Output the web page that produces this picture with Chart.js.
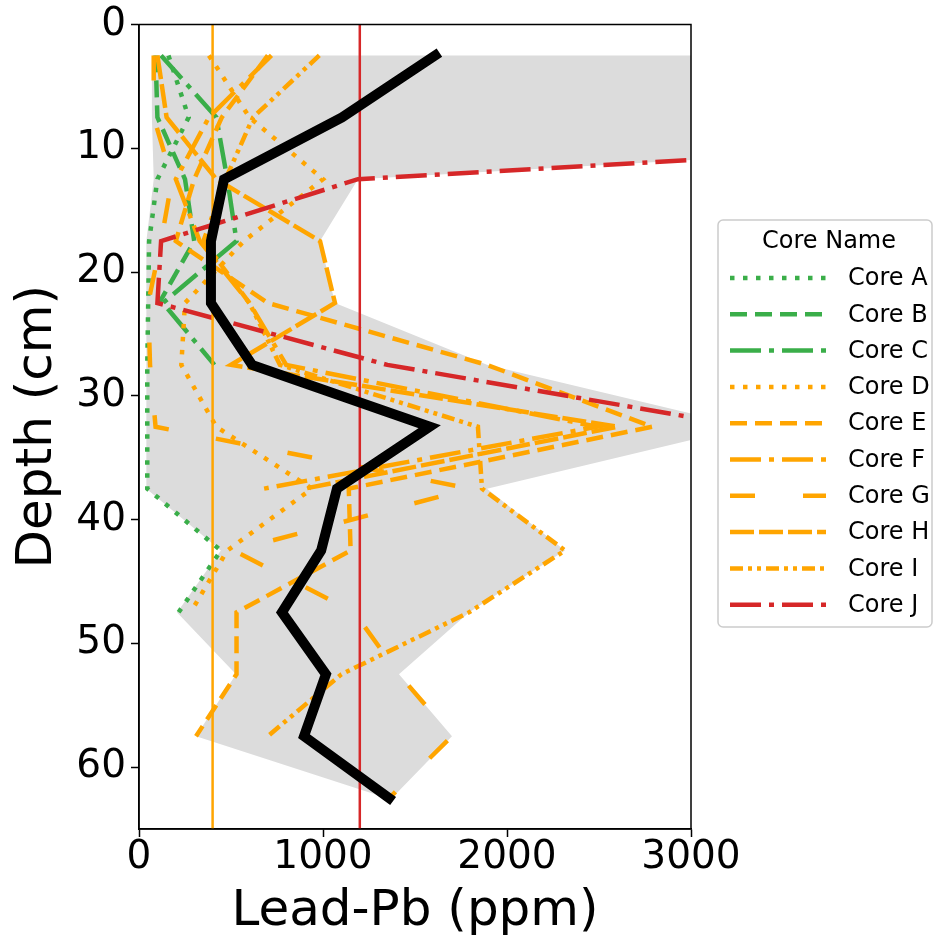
<!DOCTYPE html>
<html>
<head>
<meta charset="utf-8">
<script src="https://cdn.jsdelivr.net/npm/chart.js@4.4.1/dist/chart.umd.min.js"></script>
<style>
  html, body { margin: 0; padding: 0; background: #fff; }
</style>
</head>
<body>
<canvas id="grafik" width="935" height="943"></canvas>
<script>
// depth of each sample (cm)
const depths = [2.5, 7.5, 12.5, 17.5, 22.5, 27.5, 32.5, 37.5, 42.5, 47.5, 52.5, 57.5, 62.5];

// lead per core (ppm), null = no sample
const coreA = [160, 270, 100, 55, 50, 45, 45, 45, 445, 215, null, null, null];
const coreB = [90, 100, 250, 300, 110, null, null, null, null, null, null, null, null];
const coreC = [120, 420, 480, 530, 130, 410, null, null, null, null, null, null, null];
const coreD = [380, 600, 1000, 570, 250, 230, 420, 940, 480, 280, null, null, null];
const coreE = [700, 450, 300, 200, 700, 1891, 2790, 1140, 1150, 530, 530, 310, null];
const coreF = [720, 380, 200, 330, 600, 800, 2490, 680, null, null, null, null, null];
const coreG = [80, 80, 180, 120, 50, 60, 90, 1800, 516, 1170, 1413, 1701, 1360];
const coreH = [100, 150, 420, 984, 1065, 500, 2600, 900, null, null, null, null, null];
const coreI = [980, 620, 470, 350, 600, 766, 1842, 1864, 2315, 1793, 1100, 700, null];
const coreJ = [12000, 7000, 1190, 120, 100, 1350, 3300, null, null, null, null, null, null];

// mean profile and min/max envelope
const meanPb = [1610, 1103, 462, 391, 391, 614, 1580, 1076, 990, 777, 1016, 897, 1359];
const bandMax = [12000, 7000, 1190, 984, 1065, 1891, 3300, 1891, 2315, 1793, 1413, 1701, 1375];
const bandMin = [70, 70, 80, 40, 40, 40, 40, 40, 445, 207, 527, 310, 1345];

const thresholds = [400, 1200];
const xTicks = [0, 1000, 2000, 3000];
const yTicks = [0, 10, 20, 30, 40, 50, 60];

const GREEN = '#3aae49';
const ORANGE = '#ffa500';
const RED = '#d62728';
const FONT = '"DejaVu Sans", "Liberation Sans", sans-serif';

const cores = [
  { name: 'Core A', data: coreA, color: GREEN, dash: [4.5, 8.5] },
  { name: 'Core B', data: coreB, color: GREEN, dash: [17, 8] },
  { name: 'Core C', data: coreC, color: GREEN, dash: [31, 8, 5, 8] },
  { name: 'Core D', data: coreD, color: ORANGE, dash: [4.5, 8.5] },
  { name: 'Core E', data: coreE, color: ORANGE, dash: [17, 8] },
  { name: 'Core F', data: coreF, color: ORANGE, dash: [31, 8, 5, 8] },
  { name: 'Core G', data: coreG, color: ORANGE, dash: [25, 48] },
  { name: 'Core H', data: coreH, color: ORANGE, dash: [24, 5] },
  { name: 'Core I', data: coreI, color: ORANGE, dash: [13, 5, 4, 5, 4, 5] },
  { name: 'Core J', data: coreJ, color: RED, dash: [31, 8, 5, 8] }
];

function toPoints(values) {
  return depths.map((d, i) => ({ x: values[i], y: d }));
}

const bandPoints = toPoints(bandMax).concat(toPoints(bandMin).reverse());

const datasets = [];
datasets.push({
  label: 'range',
  data: bandPoints,
  showLine: true,
  borderWidth: 0,
  borderColor: 'rgba(0,0,0,0)',
  backgroundColor: '#dcdcdc',
  fill: 'shape',
  pointRadius: 0,
  order: 100
});
cores.forEach((c, i) => {
  datasets.push({
    label: c.name,
    data: toPoints(c.data),
    showLine: true,
    borderColor: c.color,
    borderWidth: 4.5,
    borderDash: c.dash,
    borderCapStyle: 'butt',
    pointRadius: 0,
    fill: false,
    spanGaps: false,
    order: 40 - i
  });
});
datasets.push({
  label: 'Pb 400',
  data: [{ x: thresholds[0], y: 0 }, { x: thresholds[0], y: 65 }],
  showLine: true, borderColor: ORANGE, borderWidth: 2.5, pointRadius: 0, order: 10
});
datasets.push({
  label: 'Pb 1200',
  data: [{ x: thresholds[1], y: 0 }, { x: thresholds[1], y: 65 }],
  showLine: true, borderColor: RED, borderWidth: 2.5, pointRadius: 0, order: 10
});
datasets.push({
  label: 'mean',
  data: toPoints(meanPb),
  showLine: true,
  borderColor: '#000',
  borderWidth: 10,
  borderCapStyle: 'square',
  borderJoinStyle: 'miter',
  pointRadius: 0,
  order: 0
});

const framePlugin = {
  id: 'frame',
  afterDatasetsDraw(chart) {
    const a = chart.chartArea;
    const ctx = chart.ctx;
    ctx.save();
    ctx.strokeStyle = '#000';
    ctx.lineWidth = 1.5;
    ctx.strokeRect(a.left, a.top, a.right - a.left, a.bottom - a.top);
    ctx.restore();
  }
};

const legendPlugin = {
  id: 'coreLegend',
  afterDraw(chart) {
    const ctx = chart.ctx;
    const x0 = 718, y0 = 220, w = 214, h = 407;
    ctx.save();
    ctx.beginPath();
    ctx.roundRect(x0, y0, w, h, 5);
    ctx.fillStyle = 'rgba(255,255,255,0.8)';
    ctx.fill();
    ctx.strokeStyle = '#cccccc';
    ctx.lineWidth = 1.5;
    ctx.stroke();

    ctx.fillStyle = '#000';
    ctx.font = '24px ' + FONT;
    ctx.textAlign = 'center';
    ctx.textBaseline = 'middle';
    ctx.fillText('Core Name', 829, 242);

    ctx.textAlign = 'left';
    cores.forEach((c, i) => {
      const y = 278 + i * 36.3;
      ctx.beginPath();
      ctx.setLineDash(c.dash);
      ctx.lineCap = 'butt';
      ctx.strokeStyle = c.color;
      ctx.lineWidth = 4.5;
      ctx.moveTo(730, y);
      ctx.lineTo(826, y);
      ctx.stroke();
      ctx.setLineDash([]);
      ctx.fillStyle = '#000';
      ctx.fillText(c.name, 848, y + 1);
    });
    ctx.restore();
  }
};

const ctx = document.getElementById('grafik').getContext('2d');

const chart = new Chart(ctx, {
  type: 'scatter',
  data: { datasets: datasets },
  options: {
    responsive: false,
    animation: false,
    devicePixelRatio: 1,
    layout: { padding: { top: 22, right: 244, left: 0, bottom: 0 } },
    plugins: {
      legend: { display: false },
      tooltip: { enabled: false }
    },
    scales: {
      x: {
        type: 'linear',
        position: 'bottom',
        min: 0,
        max: 3000,
        afterBuildTicks: (s) => { s.ticks = xTicks.map(v => ({ value: v })); },
        afterFit: (s) => { s.height = 114; },
        ticks: {
          color: '#000',
          font: { family: FONT, size: 39, lineHeight: 1 },
          padding: 1,
          maxRotation: 0,
          callback: (v) => String(v)
        },
        grid: { drawOnChartArea: false, tickLength: 8, tickColor: '#000', tickWidth: 1.5 },
        border: { display: true, color: '#000', width: 1.5 },
        title: {
          display: true,
          text: 'Lead-Pb (ppm)',
          color: '#000',
          font: { family: FONT, size: 50 },
          padding: { top: 0, bottom: 1 }
        }
      },
      y: {
        type: 'linear',
        position: 'left',
        reverse: true,
        min: 0,
        max: 65,
        afterBuildTicks: (s) => { s.ticks = yTicks.map(v => ({ value: v })); },
        afterFit: (s) => { s.width = 139; },
        ticks: {
          color: '#000',
          font: { family: FONT, size: 39, lineHeight: 1 },
          padding: 5,
          callback: (v) => String(v)
        },
        grid: { drawOnChartArea: false, tickLength: 8, tickColor: '#000', tickWidth: 1.5 },
        border: { display: true, color: '#000', width: 1.5 },
        title: {
          display: true,
          text: 'Depth (cm)',
          color: '#000',
          font: { family: FONT, size: 50 },
          padding: { top: 8, bottom: 0 }
        }
      }
    }
  },
  plugins: [framePlugin, legendPlugin]
});
</script>
</body>
</html>
